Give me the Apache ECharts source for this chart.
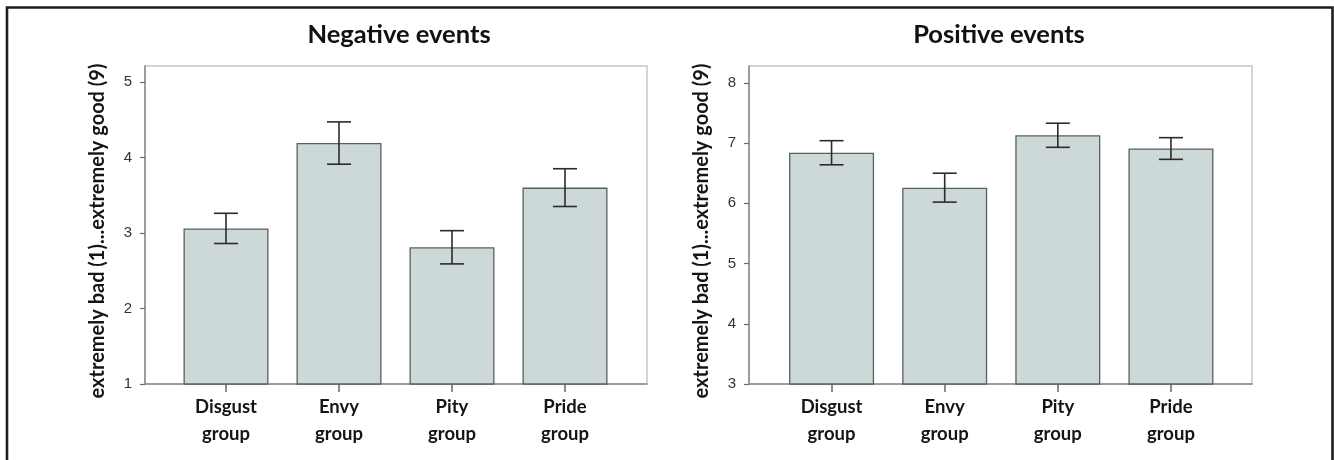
<!DOCTYPE html>
<html>
<head>
<meta charset="utf-8">
<script src="https://cdn.jsdelivr.net/npm/echarts@6/dist/echarts.min.js"></script>
<style>
  html, body { margin: 0; padding: 0; background: #fff; }
  #chart { width: 1334px; height: 460px; }
</style>
</head>
<body>
<div id="chart"></div>
<script>
// Group names shown under each bar
const groups = ['Disgust\ngroup', 'Envy\ngroup', 'Pity\ngroup', 'Pride\ngroup'];

// Mean ratings and error half-widths
const negMeans = [3.06, 4.19, 2.81, 3.60];
const negErr   = [0.20, 0.28, 0.22, 0.25];
const posMeans = [6.84, 6.26, 7.13, 6.91];
const posErr   = [0.20, 0.24, 0.20, 0.18];

// Value-axis ticks and ranges
const negTicks = [1, 2, 3, 4, 5];
const posTicks = [3, 4, 5, 6, 7, 8];
const negRange = [1, 5.21];
const posRange = [3, 8.28];

const panelTitles = ['Negative events', 'Positive events'];
const yTitle = 'extremely bad (1)...extremely good (9)';

const BOLD_FONT = 'Lato';
const NUM_FONT = 'Liberation Sans';

function errData(means, errs) {
  return means.map((m, i) => [i, m - errs[i], m + errs[i]]);
}

function renderErr(params, api) {
  const x = api.value(0);
  const lo = api.coord([x, api.value(1)]);
  const hi = api.coord([x, api.value(2)]);
  const hw = 12;
  const style = { stroke: '#2b2b2b', lineWidth: 1.6, fill: null };
  return {
    type: 'group',
    children: [
      { type: 'line', shape: { x1: lo[0], y1: lo[1], x2: hi[0], y2: hi[1] }, style },
      { type: 'line', shape: { x1: hi[0] - hw, y1: hi[1], x2: hi[0] + hw, y2: hi[1] }, style },
      { type: 'line', shape: { x1: lo[0] - hw, y1: lo[1], x2: lo[0] + hw, y2: lo[1] }, style }
    ]
  };
}

// Outer frame grid (axes + border) and inner grid (bars), per panel
const frames = [
  { outer: { left: 145, right: 687 }, inner: { left: 169.5, right: 712.5 } },
  { outer: { left: 749, right: 82 },  inner: { left: 775,   right: 106.5 } }
];
const TOP = 66, BOTTOM = 76;

const grid = [];
frames.forEach(f => {
  grid.push({ left: f.outer.left, right: f.outer.right, top: TOP, bottom: BOTTOM,
              show: true, backgroundColor: '#fff', borderColor: '#c6c6c6', borderWidth: 1.5 });
  grid.push({ left: f.inner.left, right: f.inner.right, top: TOP, bottom: BOTTOM });
});

const ranges = [negRange, posRange];
const ticks = [negTicks, posTicks];
const xAxis = [], yAxis = [];
[0, 1].forEach(p => {
  const og = p * 2, ig = p * 2 + 1;
  xAxis.push({
    type: 'value', gridIndex: og, min: 0, max: 1,
    axisLine: { show: true, lineStyle: { color: '#8a8a8a', width: 1.5 } },
    axisTick: { show: false }, axisLabel: { show: false }, splitLine: { show: false }
  });
  xAxis.push({
    type: 'category', gridIndex: ig, data: groups,
    axisLine: { show: false },
    axisTick: { show: true, alignWithLabel: true, length: 8, lineStyle: { color: '#6a6a6a', width: 1.5 } },
    axisLabel: { color: '#151515', fontFamily: BOLD_FONT, fontWeight: 'bold', fontSize: 18.5,
                 lineHeight: 27, margin: 10 }
  });
  yAxis.push({
    type: 'value', gridIndex: og, min: ranges[p][0], max: ranges[p][1],
    name: yTitle, nameLocation: 'middle', nameGap: 37,
    nameTextStyle: { color: '#151515', fontFamily: BOLD_FONT, fontWeight: 'bold', fontSize: 20,
                     padding: [0, 12, 0, 0] },
    axisLine: { show: true, lineStyle: { color: '#8a8a8a', width: 1.5 } },
    axisTick: { show: true, length: 5, customValues: ticks[p], lineStyle: { color: '#6a6a6a', width: 1.2 } },
    axisLabel: { customValues: ticks[p], color: '#333', fontFamily: NUM_FONT, fontSize: 15, margin: 13 },
    splitLine: { show: false }
  });
  yAxis.push({
    type: 'value', gridIndex: ig, min: ranges[p][0], max: ranges[p][1], show: false
  });
});

const means = [negMeans, posMeans];
const errs = [negErr, posErr];
const series = [];
[0, 1].forEach(p => {
  const ig = p * 2 + 1;
  series.push({
    type: 'bar', xAxisIndex: ig, yAxisIndex: ig, data: means[p], barWidth: 85,
    itemStyle: { color: '#cdd8d8', borderColor: '#5a5f5f', borderWidth: 1.3 },
    silent: true
  });
  series.push({
    type: 'custom', xAxisIndex: ig, yAxisIndex: ig, data: errData(means[p], errs[p]),
    renderItem: renderErr, z: 5, silent: true
  });
});

const chart = echarts.init(document.getElementById('chart'), null, { renderer: 'canvas' });
chart.setOption({
  animation: false,
  backgroundColor: '#fff',
  grid, xAxis, yAxis, series,
  graphic: [
    { type: 'rect', shape: { x: 7, y: 7.5, width: 1325.5, height: 500 },
      style: { fill: null, stroke: '#1e1e1e', lineWidth: 2.6 }, z: 100 },
    { type: 'text', x: 399, y: 35,
      style: { text: panelTitles[0], fontFamily: BOLD_FONT, fontWeight: 'bold', fontSize: 25.5,
               fill: '#111', align: 'center', verticalAlign: 'middle' } },
    { type: 'text', x: 999, y: 35,
      style: { text: panelTitles[1], fontFamily: BOLD_FONT, fontWeight: 'bold', fontSize: 25.5,
               fill: '#111', align: 'center', verticalAlign: 'middle' } }
  ]
});
</script>
</body>
</html>
